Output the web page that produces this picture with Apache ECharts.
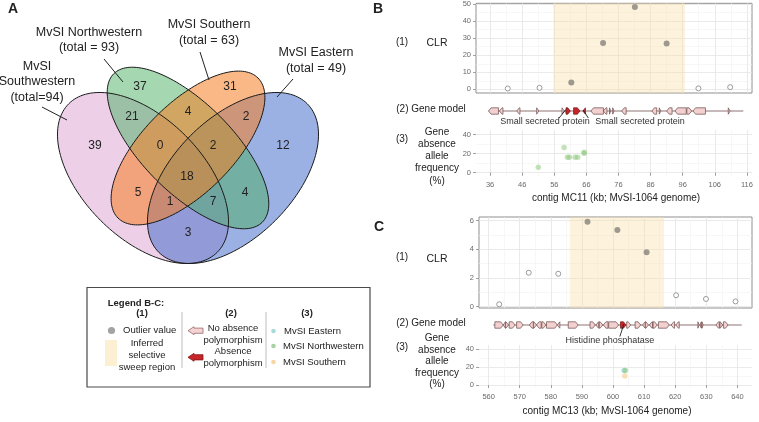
<!DOCTYPE html>
<html><head><meta charset="utf-8">
<script src="https://cdn.jsdelivr.net/npm/echarts@6/dist/echarts.min.js"></script>
<style>html,body{margin:0;padding:0;background:#fff}#c{width:759px;height:422px}</style>
</head><body><div id="c"></div>
<script>
// ================= DATA =================
// Panel A – Venn
const vennSetNames = ['MvSI\nSouthwestern', 'MvSI Northwestern', 'MvSI Southern', 'MvSI Eastern'];
const vennSetTotals = [94, 93, 63, 49];
const vennRegions = ['NW', 'NW&S', 'S', 'SW&NW', 'S&E', 'SW', 'SW&NW&S', 'NW&S&E', 'E', 'ALL', 'SW&S', 'NW&E', 'SW&S&E', 'SW&NW&E', 'SW&E'];
const vennCounts = [37, 4, 31, 21, 2, 39, 0, 2, 12, 18, 5, 4, 1, 7, 3];

// Panel B – contig MC11
const clrB_kb = [41.5, 51.4, 61.3, 71.2, 81.1, 91.0, 100.9, 110.8];
const clrB_val = [0.5, 0.9, 4.0, 27.2, 48.2, 26.8, 0.6, 1.3];
const clrB_outlier = [0, 0, 1, 1, 1, 1, 0, 0];
const sweepB = [55.7, 96.7];
const trackB = [35.5, 114.9];
const genesB_start = [35.5, 38.9, 44.3, 50.5, 58.4, 59.4, 59.7, 62.0, 64.9, 67.4, 71.3, 73.2, 74.2, 77.0, 86.4, 88.7, 91.0, 93.6, 97.3, 99.2, 110.2];
const genesB_end   = [38.6, 40.0, 45.3, 51.2, 59.1, 59.8, 61.0, 64.0, 65.7, 71.3, 72.4, 73.6, 74.6, 78.4, 87.9, 89.2, 92.7, 97.1, 98.8, 103.1, 110.8];
const genesB_strand= [-1, -1, -1, 1, 1, -1, 1, 1, -1, -1, -1, 1, 1, -1, -1, 1, -1, -1, 1, -1, 1];
const genesB_absence=[0, 0, 0, 0, 0, 0, 1, 1, 1, 0, 0, 0, 0, 0, 0, 0, 0, 0, 0, 0, 0];
const annotB_text = ['Small secreted protein', 'Small secreted protein'];
const annotB_geneKb = [59.5, 65.0];
const annotB_labelKb = [53.1, 82.7];
const annotB_leaderKb = [57.5, 66.6];
const absB_NW_kb = [51.0, 59.05, 60.1, 60.7, 62.5, 63.3, 65.3, 65.3];
const absB_NW_val = [5.7, 26.5, 16.3, 16.3, 16.3, 16.3, 21.5, 20.5];
const ticksB_x = [36, 46, 56, 66, 76, 86, 96, 106, 116];

// Panel C – contig MC13
const clrC_kb = [563.4, 572.9, 582.4, 591.8, 601.4, 610.8, 620.3, 629.9, 639.4];
const clrC_val = [0.17, 2.37, 2.3, 5.93, 5.35, 3.8, 0.8, 0.54, 0.37];
const clrC_outlier = [0, 0, 0, 1, 1, 1, 0, 0, 0];
const sweepC = [586.1, 616.4];
const trackC = [561.5, 641.4];
const genesC_start = [562.0, 564.7, 565.4, 566.6, 569.0, 573.1, 574.4, 575.4, 577.1, 578.6, 582.1, 585.6, 592.6, 594.5, 595.6, 596.9, 598.6, 602.4, 604.4, 607.1, 609.5, 610.4, 611.7, 612.9, 614.6, 618.7, 620.2, 627.3, 628.0, 628.6, 633.1, 634.4, 635.5];
const genesC_end   = [564.7, 565.4, 566.4, 568.5, 571.1, 574.4, 575.4, 576.9, 578.4, 582.1, 582.9, 588.8, 594.3, 595.4, 596.7, 598.4, 601.8, 604.2, 605.7, 608.9, 610.4, 611.4, 612.7, 614.2, 618.1, 619.8, 621.3, 627.7, 628.4, 629.0, 634.2, 635.3, 637.0];
const genesC_strand= [1, -1, 1, 1, 1, -1, 1, -1, 1, 1, -1, 1, 1, -1, 1, -1, 1, 1, 1, 1, -1, 1, -1, 1, 1, -1, -1, 1, -1, 1, -1, 1, 1];
const genesC_absence=[0,0,0,0,0,0,0,0,0,0,0,0,0,0,0,0,0,1,0,0,0,0,0,0,0,0,0,0,0,0,0,0,0];
const annotC_text = ['Histidine phosphatase'];
const annotC_geneKb = [603.5];
const annotC_labelKb = [599.0];
const annotC_leaderKb = [602.2];
const absC_E_kb = [603.6], absC_E_val = [16];
const absC_NW_kb = [604.0], absC_NW_val = [16];
const absC_S_kb = [603.8], absC_S_val = [10];
const ticksC_x = [560, 570, 580, 590, 600, 610, 620, 630, 640];

// ================= LAYOUT / STYLE =================
const FONT = "'Liberation Sans', Arial, Helvetica, sans-serif";
const vennLabelPx = [[140,87],[188,112],[230,87],[132,117],[246,117],[95,146],[160,146],[213,146],[283,146],[187,177],[138,193],[245,193],[170,202],[213,202],[188,233]];
const vennEllipses = [ // cx, cy, a, b, angle
  {c:[143,178], a:105, b:60, ang:135, fill:'rgba(214,150,205,0.45)'},
  {c:[233,178], a:105, b:60, ang:45,  fill:'rgba(55,100,200,0.5)'},
  {c:[188,148], a:105, b:45, ang:135, fill:'rgba(75,175,100,0.5)'},
  {c:[188,148], a:99,  b:45, ang:45,  fill:'rgba(245,125,35,0.55)'}
];

function ellipsePts(e) {
  const th = e.ang * Math.PI / 180, pts = [];
  for (let i = 0; i < 160; i++) {
    const t = i / 160 * 2 * Math.PI;
    const x = e.a * Math.cos(t), y = e.b * Math.sin(t);
    pts.push([e.c[0] + x * Math.cos(th) - y * Math.sin(th), e.c[1] - (x * Math.sin(th) + y * Math.cos(th))]);
  }
  return pts;
}
function txt(x, y, text, o) {
  o = o || {};
  const st = {text: text, font: (o.bold ? 'bold ' : '') + (o.size || 10) + 'px ' + FONT,
    fill: o.color || '#222', align: o.align || 'center', verticalAlign: 'middle'};
  if (o.lh) st.lineHeight = o.lh;
  return {type: 'text', x: x, y: y, silent: true, z: 10, style: st};
}
function line(x1, y1, x2, y2, color, w) {
  return {type: 'line', silent: true, z: 10, shape: {x1, y1, x2, y2}, style: {stroke: color || '#222', lineWidth: w || 1}};
}

const graphics = [];
vennEllipses.forEach(e => graphics.push({type: 'polygon', silent: true, z: 5, shape: {points: ellipsePts(e)}, style: {fill: e.fill, stroke: null}}));
vennEllipses.forEach(e => graphics.push({type: 'polygon', silent: true, z: 6, shape: {points: ellipsePts(e)}, style: {fill: null, stroke: '#1a1a1a', lineWidth: 1}}));
vennCounts.forEach((v, i) => graphics.push(txt(vennLabelPx[i][0], vennLabelPx[i][1], String(v), {size: 12})));
graphics.push(txt(13, 9, 'A', {bold: true, size: 14}));
graphics.push(txt(37, 82, vennSetNames[0] + '\n(total=' + vennSetTotals[0] + ')', {size: 12.5, lh: 15.5}));
graphics.push(txt(89, 40, vennSetNames[1] + '\n(total = ' + vennSetTotals[1] + ')', {size: 12.5, lh: 14.5}));
graphics.push(txt(209, 33, vennSetNames[2] + '\n(total = ' + vennSetTotals[2] + ')', {size: 12.5, lh: 16}));
graphics.push(txt(316, 61, vennSetNames[3] + '\n(total = ' + vennSetTotals[3] + ')', {size: 12.5, lh: 16}));
graphics.push(line(42, 107, 67, 120));
graphics.push(line(104, 59, 123, 82));
graphics.push(line(200, 52, 209, 80));
graphics.push(line(293, 79, 277, 97));

// Legend box
graphics.push({type: 'rect', silent: true, z: 5, shape: {x: 87, y: 287.5, width: 283, height: 99.5}, style: {fill: '#fff', stroke: '#4a4a4a', lineWidth: 1.2}});
graphics.push(txt(136, 303, 'Legend B-C:', {bold: true, size: 9.5}));
graphics.push(txt(142, 313.5, '(1)', {bold: true, size: 9.5}));
graphics.push({type: 'circle', silent: true, z: 10, shape: {cx: 111.5, cy: 330.5, r: 3.6}, style: {fill: '#a3a3a3'}});
graphics.push(txt(123, 330, 'Outlier value', {size: 9.5, align: 'left'}));
graphics.push({type: 'rect', silent: true, z: 10, shape: {x: 105, y: 340, width: 12, height: 26}, style: {fill: '#fcefd2'}});
graphics.push(txt(147, 355, 'Inferred\nselective\nsweep region', {size: 9.5, lh: 12}));
graphics.push(line(182, 312, 182, 368, '#bdbdbd', 1));
graphics.push(txt(231, 313.5, '(2)', {bold: true, size: 9.5}));
function arrowPts(y) { return [[188, y], [194, y - 4], [194, y - 2.6], [203, y - 2.6], [203, y + 2.6], [194, y + 2.6], [194, y + 4]]; }
graphics.push({type: 'polygon', silent: true, z: 10, shape: {points: arrowPts(330.7)}, style: {fill: '#f3d3d3', stroke: '#9c6a6a', lineWidth: 0.8}});
graphics.push({type: 'polygon', silent: true, z: 10, shape: {points: arrowPts(357.3)}, style: {fill: '#c5262b', stroke: '#8a1414', lineWidth: 0.8}});
graphics.push(txt(233, 334.5, 'No absence\npolymorphism', {size: 9.5, lh: 12.5}));
graphics.push(txt(233, 357, 'Absence\npolymorphism', {size: 9.5, lh: 12}));
graphics.push(line(266, 312, 266, 368, '#bdbdbd', 1));
graphics.push(txt(307, 313.5, '(3)', {bold: true, size: 9.5}));
graphics.push({type: 'circle', silent: true, z: 10, shape: {cx: 273.5, cy: 331, r: 2.3}, style: {fill: '#a8dbd8'}});
graphics.push({type: 'circle', silent: true, z: 10, shape: {cx: 273.5, cy: 346, r: 2.3}, style: {fill: '#a9d3a2'}});
graphics.push({type: 'circle', silent: true, z: 10, shape: {cx: 273.5, cy: 362, r: 2.3}, style: {fill: '#f6d6a6'}});
graphics.push(txt(284, 331, 'MvSI Eastern', {size: 9.5, align: 'left'}));
graphics.push(txt(283, 346, 'MvSI Northwestern', {size: 9.5, align: 'left'}));
graphics.push(txt(283, 362, 'MvSI Southern', {size: 9.5, align: 'left'}));

// Panel B/C row labels
graphics.push(txt(378, 9, 'B', {bold: true, size: 14}));
graphics.push(txt(402, 42, '(1)', {size: 10}));
graphics.push(txt(437, 43, 'CLR', {size: 10.5}));
graphics.push(txt(431, 109, '(2) Gene model', {size: 10}));
graphics.push(txt(402, 139, '(3)', {size: 10}));
graphics.push(txt(437, 156.5, 'Gene\nabsence\nallele\nfrequency\n(%)', {size: 10, lh: 12.2}));
graphics.push(txt(616, 198, 'contig MC11 (kb; MvSI-1064 genome)', {size: 10}));
graphics.push(txt(379, 227, 'C', {bold: true, size: 14}));
graphics.push(txt(402, 257, '(1)', {size: 10}));
graphics.push(txt(437, 259, 'CLR', {size: 10.5}));
graphics.push(txt(431, 323, '(2) Gene model', {size: 10}));
graphics.push(txt(402, 347, '(3)', {size: 10}));
graphics.push(txt(437, 361.5, 'Gene\nabsence\nallele\nfrequency\n(%)', {size: 10, lh: 11.4}));
graphics.push(txt(607, 411, 'contig MC13 (kb; MvSI-1064 genome)', {size: 10}));

// ================= AXES =================
const grids = [
  {left: 476, right: 7, top: 2, height: 91, show: true, borderColor: '#8f8f8f', borderWidth: 1, backgroundColor: 'transparent'},
  {left: 476, right: 7, top: 104, height: 14},
  {left: 476, right: 7, top: 130, height: 46},
  {left: 479, right: 7, top: 217, height: 91, show: true, borderColor: '#8f8f8f', borderWidth: 1, backgroundColor: 'transparent'},
  {left: 479, right: 7, top: 318, height: 14},
  {left: 479, right: 7, top: 345, height: 43}
];
const xAxes = [], yAxes = [];
function minorsOf(majors) { const m = []; for (let i = 0; i < majors.length - 1; i++) m.push((majors[i] + majors[i + 1]) / 2); return m; }
function addPair(list, gridIndex, min, max, majors, showLabels, pos) {
  list.push({type: 'value', gridIndex, min, max, position: pos, axisLine: {show: false},
    axisTick: {show: false, customValues: minorsOf(majors)}, axisLabel: {show: false, customValues: minorsOf(majors)},
    splitLine: {show: true, lineStyle: {color: '#f1f1f1', width: 0.6}}});
  list.push({type: 'value', gridIndex, min, max, position: pos, axisLine: {show: false},
    axisTick: {show: showLabels, length: 3, customValues: majors, lineStyle: {color: '#8a8a8a', width: 0.8}},
    axisLabel: {show: showLabels, customValues: majors, fontSize: 7.5, color: '#6a6a6a', fontFamily: FONT, margin: 5},
    splitLine: {show: true, lineStyle: {color: '#e4e4e4', width: 0.8}}});
  return list.length - 1;
}
function addHidden(list, gridIndex, min, max) {
  list.push({type: 'value', gridIndex, min, max, show: false, splitLine: {show: false}});
  return list.length - 1;
}
const xB = [31.6, 117.6], xC = [556.9, 644.7];
const bClrX = addPair(xAxes, 0, xB[0], xB[1], ticksB_x, false, 'bottom');
const bClrY = addPair(yAxes, 0, -2.13, 50.4, [0, 10, 20, 30, 40, 50], true, 'left');
const bGenX = addHidden(xAxes, 1, xB[0], xB[1]);
const bGenY = addHidden(yAxes, 1, -1, 1);
const bAbsX = addPair(xAxes, 2, xB[0], xB[1], ticksB_x, true, 'bottom');
const bAbsY = addPair(yAxes, 2, -3.5, 45, [0, 20, 40], true, 'left');
const cClrX = addPair(xAxes, 3, xC[0], xC[1], ticksC_x, false, 'bottom');
const cClrY = addPair(yAxes, 3, -0.09, 6.26, [0, 2, 4, 6], true, 'left');
const cGenX = addHidden(xAxes, 4, xC[0], xC[1]);
const cGenY = addHidden(yAxes, 4, -1, 1);
const cAbsX = addPair(xAxes, 5, xC[0], xC[1], ticksC_x, true, 'bottom');
const cAbsY = addPair(yAxes, 5, -3.3, 44.4, [0, 20, 40], true, 'left');

// ================= SERIES =================
function pts(xs, ys, mask, want) { const d = []; xs.forEach((x, i) => { if (mask === null || mask[i] === want) d.push([x, ys[i]]); }); return d; }
function clrSeries(xi, yi, kb, val, outl, sweep) {
  return [
    {type: 'scatter', xAxisIndex: xi, yAxisIndex: yi, data: pts(kb, val, outl, 1), symbolSize: 6,
      itemStyle: {color: '#9e998e', opacity: 1}, z: 4,
      markArea: {silent: true, itemStyle: {color: 'rgba(250,222,160,0.38)'}, data: [[{xAxis: sweep[0]}, {xAxis: sweep[1]}]]}},
    {type: 'scatter', xAxisIndex: xi, yAxisIndex: yi, data: pts(kb, val, outl, 0), symbolSize: 5,
      itemStyle: {color: '#fff', borderColor: '#9a9a9a', borderWidth: 1, opacity: 1}, z: 4}
  ];
}
function geneSeries(xi, yi, track, st, en, sd, ab) {
  const data = st.map((s, i) => [s, en[i], sd[i], ab[i]]);
  return [
    {type: 'line', xAxisIndex: xi, yAxisIndex: yi, data: [[track[0], 0], [track[1], 0]], symbol: 'none',
      lineStyle: {color: '#b5a2a2', width: 1.4}, z: 2},
    {type: 'custom', xAxisIndex: xi, yAxisIndex: yi, data: data, z: 3,
      renderItem: function (params, api) {
        const p1 = api.coord([api.value(0), 0]), p2 = api.coord([api.value(1), 0]);
        const y = p1[1], hw = 3.2, x1 = p1[0], x2 = p2[0];
        const head = Math.min(2.6, (x2 - x1));
        let pp;
        if (api.value(2) > 0) pp = [[x1, y - hw], [x2 - head, y - hw], [x2, y], [x2 - head, y + hw], [x1, y + hw]];
        else pp = [[x2, y - hw], [x1 + head, y - hw], [x1, y], [x1 + head, y + hw], [x2, y + hw]];
        const abs = api.value(3) > 0;
        return {type: 'polygon', shape: {points: pp},
          style: {fill: abs ? '#c4262b' : '#f2d0d0', stroke: abs ? '#7a1212' : '#6c4a4a', lineWidth: 0.7}};
      }}
  ];
}
function annotSeries(xi, yi, texts, geneKb, labelKb, leaderKb, dy) {
  const data = texts.map((t, i) => [geneKb[i], labelKb[i], leaderKb[i], t]);
  return {type: 'custom', xAxisIndex: xi, yAxisIndex: yi, data: data, z: 5, clip: false,
    renderItem: function (params, api) {
      const g = api.coord([api.value(0), 0]);
      const l = api.coord([api.value(1), 0]);
      const s = api.coord([api.value(2), 0]);
      return {type: 'group', children: [
        {type: 'line', shape: {x1: s[0], y1: g[1] + dy - 4, x2: g[0], y2: g[1] - 1}, style: {stroke: '#222', lineWidth: 0.9}},
        {type: 'text', style: {x: l[0], y: g[1] + dy, text: data[params.dataIndex][3], font: '9px ' + FONT, fill: '#333', align: 'center', verticalAlign: 'middle'}}
      ]};
    }};
}
function absSeries(xi, yi, kb, val, color) {
  return {type: 'scatter', xAxisIndex: xi, yAxisIndex: yi, data: pts(kb, val, null), symbolSize: 5.5,
    itemStyle: {color: color}, z: 4};
}

const series = [].concat(
  clrSeries(bClrX, bClrY, clrB_kb, clrB_val, clrB_outlier, sweepB),
  geneSeries(bGenX, bGenY, trackB, genesB_start, genesB_end, genesB_strand, genesB_absence),
  [annotSeries(bGenX, bGenY, annotB_text, annotB_geneKb, annotB_labelKb, annotB_leaderKb, 11)],
  [absSeries(bAbsX, bAbsY, absB_NW_kb, absB_NW_val, 'rgba(140,200,120,0.65)')],
  clrSeries(cClrX, cClrY, clrC_kb, clrC_val, clrC_outlier, sweepC),
  geneSeries(cGenX, cGenY, trackC, genesC_start, genesC_end, genesC_strand, genesC_absence),
  [annotSeries(cGenX, cGenY, annotC_text, annotC_geneKb, annotC_labelKb, annotC_leaderKb, 15.5)],
  [absSeries(cAbsX, cAbsY, absC_S_kb, absC_S_val, 'rgba(245,200,130,0.7)'),
   absSeries(cAbsX, cAbsY, absC_E_kb, absC_E_val, 'rgba(110,195,190,0.7)'),
   absSeries(cAbsX, cAbsY, absC_NW_kb, absC_NW_val, 'rgba(140,200,120,0.65)')]
);

const chart = echarts.init(document.getElementById('c'), null, {renderer: 'canvas'});
chart.setOption({
  animation: false,
  backgroundColor: '#fff',
  textStyle: {fontFamily: FONT},
  grid: grids,
  xAxis: xAxes,
  yAxis: yAxes,
  series: series,
  graphic: {elements: graphics}
});
</script></body></html>
